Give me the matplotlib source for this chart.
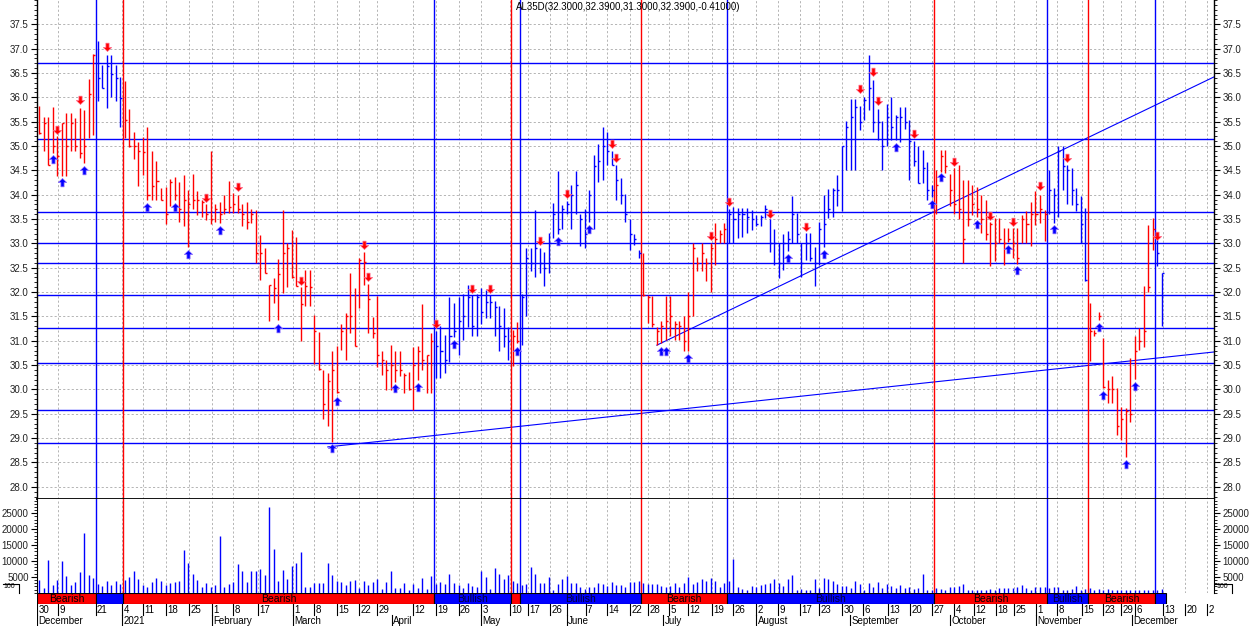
import matplotlib
matplotlib.use('Agg')
import matplotlib.pyplot as plt
import numpy as np
from matplotlib.ticker import MultipleLocator, FixedLocator
from matplotlib.lines import Line2D
from matplotlib.path import Path

plt.rcParams['font.family'] = ['Liberation Sans', 'DejaVu Sans']

W, H = 1250, 626

# daily bars, index 0 = 30 Nov 2020
highs = [35.82, 35.59, 35.59, 35.80, 35.20, 35.47, 35.68, 35.68, 35.58, 35.78,
         35.74, 36.38, 36.89, 37.16, 36.67, 36.86, 36.86, 36.67, 36.41, 36.34,
         35.77, 35.29, 35.08, 35.18, 35.40, 34.89, 34.70, 34.14, 34.15, 34.33,
         34.37, 34.27, 34.40, 34.10, 34.43, 34.07, 33.90, 33.80, 34.89, 33.80,
         33.86, 34.00, 34.29, 34.03, 34.00, 33.80, 33.86, 33.70, 33.69, 33.18,
         32.90, 32.15, 32.29, 32.68, 33.69, 33.00, 33.28, 33.14, 32.10, 32.46,
         32.46, 31.53, 31.19, 30.40, 30.33, 30.80, 30.90, 31.35, 31.57, 32.40,
         32.08, 32.70, 32.83, 32.17, 31.49, 31.91, 30.78, 30.61, 30.92, 30.80,
         30.80, 30.33, 30.35, 30.88, 30.90, 31.76, 30.71, 31.15, 31.20, 31.30,
         31.12, 31.90, 31.77, 31.90, 31.97, 32.15, 31.94, 31.97, 32.08, 32.05,
         31.95, 31.81, 31.72, 31.67, 31.28, 31.23, 31.38, 31.97, 32.90, 32.90,
         33.69, 32.90, 32.82, 33.21, 33.82, 34.49, 33.79, 33.88, 34.21, 34.49,
         33.60, 33.71, 34.10, 34.81, 35.05, 35.40, 35.28, 34.90, 34.62, 34.34,
         34.02, 33.50, 33.20, 32.87, 32.80, 31.94, 31.91, 31.29, 31.40, 31.91,
         31.91, 31.40, 31.40, 31.50, 32.01, 33.00, 32.73, 33.00, 32.70, 33.00,
         33.42, 33.28, 33.42, 33.70, 33.75, 33.73, 33.73, 33.73, 33.68, 33.59,
         33.59, 33.79, 33.50, 33.30, 33.00, 33.20, 33.25, 33.97, 33.62, 33.00,
         33.21, 33.21, 32.93, 33.45, 34.00, 34.12, 34.14, 34.41, 35.01, 35.51,
         35.97, 35.97, 35.82, 36.00, 36.86, 36.36, 35.76, 35.51, 35.87, 36.00,
         35.64, 35.80, 35.80, 35.53, 35.10, 35.01, 34.92, 34.67, 34.21, 34.50,
         34.92, 34.92, 34.43, 34.55, 34.62, 34.30, 34.30, 34.20, 34.16, 34.00,
         33.90, 33.45, 33.52, 33.52, 33.32, 33.32, 33.32, 33.32, 33.59, 33.66,
         33.86, 34.07, 34.00, 33.69, 34.51, 34.14, 35.01, 35.01, 34.62, 34.55,
         34.14, 33.97, 33.73, 31.77, 31.22, 31.60, 31.05, 30.20, 30.27, 30.03,
         29.65, 29.62, 30.64, 31.09, 31.26, 32.12, 33.38, 33.52, 33.20, 32.39]

lows = [35.25, 34.89, 34.62, 34.86, 34.39, 34.38, 34.39, 34.89, 34.89, 34.75,
        34.65, 35.16, 35.23, 35.92, 36.19, 35.78, 36.00, 35.93, 35.40, 35.16,
        34.99, 34.73, 34.17, 34.41, 33.90, 33.90, 33.90, 33.90, 33.40, 33.77,
        33.90, 33.45, 33.36, 32.93, 33.70, 33.59, 33.55, 33.48, 33.40, 33.45,
        33.42, 33.60, 33.62, 33.62, 33.62, 33.35, 33.30, 33.42, 32.60, 32.25,
        32.39, 31.40, 31.77, 31.42, 31.98, 32.10, 32.29, 32.12, 30.99, 31.72,
        31.72, 30.52, 30.40, 29.40, 29.24, 28.93, 29.92, 30.81, 30.61, 31.17,
        30.90, 31.67, 32.15, 31.17, 31.05, 30.47, 30.30, 29.99, 29.99, 30.16,
        30.27, 29.92, 29.99, 29.57, 30.20, 30.40, 29.92, 29.92, 30.23, 30.23,
        30.33, 30.56, 31.08, 30.70, 31.02, 31.29, 31.10, 31.10, 31.35, 31.47,
        31.47, 31.10, 30.80, 30.88, 30.61, 30.49, 30.95, 30.92, 31.50, 32.43,
        32.32, 32.40, 32.13, 32.39, 33.11, 33.20, 33.30, 33.60, 33.30, 33.60,
        32.94, 32.90, 33.45, 33.30, 34.27, 34.30, 34.62, 34.62, 33.90, 33.80,
        33.45, 32.87, 32.97, 32.70, 31.91, 31.36, 31.29, 30.92, 30.95, 31.02,
        31.09, 31.02, 31.02, 30.78, 30.80, 31.50, 32.43, 32.43, 32.22, 32.00,
        32.56, 33.00, 33.00, 33.00, 33.00, 33.11, 33.14, 33.21, 33.28, 33.35,
        33.35, 33.52, 32.83, 32.56, 32.29, 32.46, 32.85, 33.00, 33.00, 32.32,
        32.65, 32.63, 32.12, 32.56, 32.93, 33.52, 33.55, 33.76, 33.66, 34.51,
        34.51, 34.51, 35.32, 35.53, 35.75, 35.28, 35.13, 34.51, 35.01, 35.13,
        35.13, 35.08, 35.34, 34.30, 34.60, 34.25, 34.25, 33.90, 33.95, 33.60,
        34.47, 34.45, 33.76, 33.60, 33.50, 32.60, 33.35, 33.59, 33.55, 33.21,
        33.07, 32.53, 32.63, 33.00, 32.56, 33.02, 32.70, 32.58, 33.00, 33.00,
        32.94, 33.38, 33.42, 33.04, 33.60, 33.42, 33.55, 34.10, 33.80, 33.79,
        33.66, 33.00, 32.22, 30.58, 31.10, 31.43, 30.02, 29.72, 29.72, 29.07,
        28.97, 28.62, 29.34, 30.22, 30.82, 30.88, 32.01, 32.87, 32.53, 31.30]

closes = [35.27, 35.47, 34.62, 35.00, 34.79, 35.47, 35.00, 35.47, 35.00, 34.86,
          35.00, 36.07, 36.87, 36.40, 36.19, 36.64, 36.48, 36.40, 35.99, 35.54,
          35.00, 35.00, 34.90, 34.88, 34.00, 34.17, 34.29, 33.90, 33.60, 34.27,
          34.00, 33.70, 33.90, 33.80, 33.90, 33.90, 33.85, 33.60, 33.50, 33.70,
          33.60, 33.70, 33.75, 33.80, 33.70, 33.60, 33.45, 33.60, 32.80, 32.80,
          32.39, 32.15, 32.09, 32.38, 32.80, 32.90, 32.30, 32.12, 31.76, 32.12,
          32.10, 31.21, 30.42, 29.71, 30.17, 30.40, 29.95, 31.20, 31.50, 31.50,
          30.90, 32.65, 32.62, 31.85, 31.15, 30.70, 30.60, 30.40, 30.50, 30.40,
          30.40, 30.30, 30.00, 30.50, 30.78, 30.60, 30.70, 31.00, 30.90, 30.80,
          30.60, 31.10, 31.20, 31.40, 31.50, 31.90, 31.30, 31.90, 31.60, 31.80,
          31.80, 31.70, 31.30, 31.10, 31.00, 31.10, 31.00, 31.90, 32.70, 32.60,
          32.90, 32.60, 32.50, 33.00, 33.60, 33.30, 33.70, 33.80, 34.00, 34.20,
          33.50, 33.20, 34.00, 34.60, 34.70, 35.00, 34.90, 34.62, 34.30, 34.00,
          33.60, 33.20, 33.10, 32.80, 31.95, 31.90, 31.35, 31.20, 31.30, 31.40,
          31.50, 31.35, 31.30, 31.00, 31.50, 32.90, 32.60, 32.80, 32.60, 32.90,
          33.10, 33.20, 33.30, 33.60, 33.50, 33.60, 33.60, 33.55, 33.50, 33.40,
          33.55, 33.70, 33.00, 33.00, 32.60, 33.00, 33.10, 33.60, 33.20, 32.60,
          33.00, 32.70, 32.60, 33.30, 33.40, 33.70, 34.10, 34.10, 35.00, 35.40,
          35.60, 35.80, 35.50, 35.95, 36.20, 35.50, 35.50, 35.00, 35.60, 35.40,
          35.60, 35.60, 35.50, 35.10, 34.70, 34.25, 34.55, 34.10, 34.10, 34.20,
          34.80, 34.60, 34.10, 33.80, 33.70, 33.10, 33.50, 33.80, 33.70, 33.50,
          33.20, 33.40, 33.00, 33.10, 33.00, 33.10, 33.00, 32.70, 33.50, 33.40,
          33.60, 33.60, 33.70, 33.60, 34.10, 34.00, 34.90, 34.60, 34.50, 34.10,
          33.80, 33.40, 32.25, 31.20, 31.15, 31.50, 30.05, 30.00, 30.00, 29.25,
          29.40, 29.55, 29.50, 30.80, 31.00, 31.20, 32.10, 33.30, 32.80, 32.39]

volume = [3940, 1500, 10200, 2300, 3900, 9900, 5200, 2300, 3300, 6400,
          18700, 5500, 4600, 2600, 2000, 3600, 2400, 3600, 2600, 3900,
          4900, 6800, 4200, 2300, 1800, 3300, 4500, 3600, 2300, 3000,
          3300, 3600, 13300, 9200, 6000, 3900, 1900, 3000, 1900, 2300,
          17700, 1800, 2600, 3300, 8900, 6800, 3300, 6800, 6800, 7600,
          5600, 27100, 13800, 3600, 7300, 4200, 8300, 9200, 12700, 1800,
          1800, 3100, 3000, 3100, 9200, 5600, 3600, 3300, 2300, 3600,
          3900, 1500, 3600, 2300, 3300, 4200, 1200, 3300, 6800, 1500,
          1500, 3100, 900, 2600, 1500, 4600, 1300, 5400, 2600, 3400,
          2600, 6000, 3100, 2400, 1400, 3000, 2100, 1900, 6800, 5000,
          1300, 7800, 6000, 4200, 5500, 3800, 3100, 2400, 2600, 8100,
          6000, 3100, 3100, 4900, 1000, 2600, 4400, 5400, 3100, 3000,
          1900, 1200, 1800, 1900, 3100, 2800, 2100, 3400, 2300, 2300,
          1900, 3400, 3400, 3600, 3000, 2600, 2600, 2600, 2100, 1800,
          2100, 3000, 1800, 3100, 5000, 2600, 3300, 4200, 3600, 4500,
          3800, 1800, 3000, 3600, 10600, 1900, 1300, 1000, 2100, 1900,
          2400, 2800, 3100, 4200, 3100, 2100, 4400, 5600, 900, 1200,
          1000, 800, 4400, 1400, 4700, 4200, 3600, 2600, 2100, 2100,
          1400, 3600, 2600, 1000, 3100, 1900, 3400, 1500, 2600, 2100,
          1500, 2400, 1400, 1800, 1200, 1400, 6000, 1000, 1000, 1400,
          1200, 1000, 1900, 1800, 2100, 2800, 1000, 800, 1000, 800,
          1000, 1200, 1000, 1500, 1500, 1500, 1500, 1900, 2300, 1500,
          700, 1800, 1900, 1800, 1500, 1900, 1900, 1000, 1000, 1200,
          2100, 1000, 1200, 1500, 800, 1200, 800, 1200, 700, 700,
          1000, 1000, 700, 700, 1000, 1000, 800, 700, 1000, 1200]

# trend regime: first bar of each regime
regime_starts = [0, 13, 19, 88, 105, 107, 134, 153, 199, 224, 233, 248]
regime_names = ['Bearish', 'Bullish', 'Bearish', 'Bullish', 'Bearish', 'Bullish',
                'Bearish', 'Bullish', 'Bearish', 'Bullish', 'Bearish', 'Bullish']
regime_show = [True, False, True, True, False, True, True, True, True, True, True, False]
regime_end = 249.9

levels = [36.70, 35.14, 33.64, 33.00, 32.59, 31.95, 31.26, 30.54, 29.57, 28.91]
trend_x = [(64.0, 260.6), (137.0, 260.6)]
trend_y = [(28.82, 30.77), (30.91, 36.42)]

up_idx = [3, 5, 10, 24, 30, 33, 40, 53, 65, 66, 79, 84, 92, 106, 115, 122, 138, 139,
          144, 166, 174, 190, 198, 200, 208, 215, 217, 225, 235, 236, 241, 243]
up_tip = [34.82, 34.34, 34.60, 33.84, 33.84, 32.87, 33.35, 31.35, 28.88, 29.85, 30.11,
          30.13, 31.02, 30.88, 33.14, 33.38, 30.88, 30.88, 30.73, 32.79, 32.87, 35.06,
          33.90, 34.44, 33.49, 32.97, 32.53, 33.38, 31.36, 29.96, 28.55, 30.16]
down_idx = [4, 9, 15, 37, 44, 58, 72, 73, 88, 96, 100, 111, 117, 127, 128, 149, 153,
            162, 170, 182, 185, 186, 194, 203, 211, 216, 222, 228, 248]
down_tip = [35.25, 35.86, 36.95, 33.86, 34.07, 32.15, 32.88, 32.22, 31.26, 31.98, 31.98,
            32.97, 33.93, 34.96, 34.68, 33.07, 33.77, 33.52, 33.25, 36.08, 36.43, 35.85,
            35.17, 34.58, 33.49, 33.36, 34.10, 34.68, 33.06]

day_pos = [-0.45, 4.08, 12.5, 18.35, 23.07, 28.04, 33.27, 38.24, 43.03, 48.45, 56.21,
           61.0, 65.97, 70.99, 74.98, 82.96, 88.0, 93.03, 98.05, 104.48, 108.34, 113.29,
           117.0, 121.2, 126.0, 131.0, 135.1, 139.75, 143.97, 149.16, 153.95, 158.99,
           163.93, 168.74, 172.96, 178.13, 182.79, 188.2, 193.15, 198.09, 202.97,
           207.34, 212.16, 216.28, 221.03, 225.83, 231.23, 236.03, 239.95, 243.06,
           249.2, 254.15, 259.1]
day_lab = ['30', '9', '21', '4', '11', '18', '25', '1', '8', '17', '1', '8', '15', '22',
           '29', '12', '19', '26', '3', '10', '17', '26', '', '7', '14', '22', '28', '5',
           '12', '19', '26', '2', '9', '17', '23', '30', '6', '13', '20', '27', '4', '12',
           '18', '25', '1', '8', '15', '23', '29', '6', '13', '20', '27']
month_pos = [-0.45, 18.35, 38.24, 56.21, 78.17, 98.05, 117.0, 138.4, 159.1, 179.8,
             202.0, 221.2, 242.3]
month_lab = ['December', '2021', 'February', 'March', 'April', 'May', 'June', 'July',
             'August', 'September', 'October', 'November', 'December']

price_ticks = [28.0, 28.5, 29.0, 29.5, 30.0, 30.5, 31.0, 31.5, 32.0, 32.5,
               33.0, 33.5, 34.0, 34.5, 35.0, 35.5, 36.0, 36.5, 37.0, 37.5]
vol_ticks = [5000, 10000, 15000, 20000, 25000]

RED = '#ff0000'
BLUE = '#0000ff'
regime_color = {'Bearish': RED, 'Bullish': BLUE}
XL = (-0.51, 260.6)

# arrow glyphs with the tip at the origin
arrow_verts = [(0, 0), (0.5, -0.48), (0.19, -0.48), (0.19, -1.0), (-0.19, -1.0),
               (-0.19, -0.48), (-0.5, -0.48), (0, 0)]
arrow_codes = [Path.MOVETO] + [Path.LINETO] * 6 + [Path.CLOSEPOLY]
up_marker = Path(arrow_verts, arrow_codes)
down_marker = Path([(vx, -vy) for vx, vy in arrow_verts], arrow_codes)

fig = plt.figure(figsize=(W / 100, H / 100), dpi=100)
ax = fig.add_axes([37 / W, 127 / H, 1177 / W, 499 / H])
axv = fig.add_axes([37 / W, 33.3 / H, 1177 / W, 93.7 / H])
axs = fig.add_axes([37 / W, 22 / H, 1177 / W, 11.3 / H])
axd = fig.add_axes([37 / W, 0, 1177 / W, 22 / H])

n = len(highs)
xs = np.arange(n)
bar_col = []
for i in range(n):
    k = max(j for j, s in enumerate(regime_starts) if s <= i)
    bar_col.append(regime_color[regime_names[k]])

gridstyle = dict(color='#b4b4b4', lw=0.7, ls=(0, (2.2, 2.2)))

# price panel
ax.set_xlim(*XL)
ax.set_ylim(27.75, 38.0)
ax.yaxis.set_major_locator(FixedLocator(price_ticks))
ax.yaxis.set_minor_locator(MultipleLocator(0.1))
ax.yaxis.set_major_formatter(matplotlib.ticker.FormatStrFormatter('%.1f'))
ax.xaxis.set_major_locator(FixedLocator(day_pos[1:]))
ax.tick_params(axis='x', length=0, labelbottom=False)
ax.tick_params(axis='y', which='both', left=True, right=True, labelleft=True,
               labelright=True, direction='out', labelsize=7, labelcolor='#222222', pad=2)
ax.tick_params(axis='y', which='major', length=4)
ax.tick_params(axis='y', which='minor', length=2)
ax.grid(True, which='major', **gridstyle)
ax.set_axisbelow(True)
ax.spines['top'].set_visible(False)
for sp in ['left', 'right']:
    ax.spines[sp].set_linewidth(1.0)
ax.spines['bottom'].set_linewidth(1.3)
ax.spines['bottom'].set_color('black')
ax.spines['bottom'].set_zorder(6)

for lv in levels:
    ax.axhline(lv, color=BLUE, lw=1.0, zorder=2)
for (x0, x1), (y0, y1) in zip(trend_x, trend_y):
    ax.plot([x0, x1], [y0, y1], color=BLUE, lw=0.8, zorder=2)
for s, name in zip(regime_starts[1:], regime_names[1:]):
    ax.axvline(s - 0.42, color=regime_color[name], lw=1.0, zorder=2)
    axv.axvline(s - 0.42, color=regime_color[name], lw=1.0, zorder=2)

ax.vlines(xs, lows, highs, colors=bar_col, lw=1.0, zorder=3)
ax.hlines(closes, xs, xs + 0.45, colors=bar_col, lw=1.0, zorder=3)

ax.plot(up_idx, up_tip, ls='none', marker=up_marker, ms=12, color=BLUE,
        mec='#8a6aff', mew=0.5, zorder=4)
ax.plot(down_idx, down_tip, ls='none', marker=down_marker, ms=12, color=RED,
        mec='#ff6a8a', mew=0.5, zorder=4)

fig.text(516 / W, 1 - 7 / H, 'AL35D(32.3000,32.3900,31.3000,32.3900,-0.41000)',
         fontsize=7, ha='left', va='center', color='black')

# volume panel
axv.set_xlim(*XL)
axv.set_ylim(0, 29500)
axv.vlines(xs, 0, volume, colors=BLUE, lw=1.0, zorder=3)
axv.yaxis.set_major_locator(FixedLocator(vol_ticks))
axv.yaxis.set_minor_locator(MultipleLocator(1000))
axv.xaxis.set_major_locator(FixedLocator(day_pos[1:]))
axv.tick_params(axis='x', length=0, labelbottom=False)
axv.tick_params(axis='y', which='both', left=True, right=True, labelleft=True,
                labelright=True, direction='out', labelsize=7, labelcolor='#222222', pad=2)
axv.tick_params(axis='y', which='major', length=4)
axv.tick_params(axis='y', which='minor', length=2)
axv.grid(True, axis='x', **gridstyle)
axv.set_axisbelow(True)
axv.spines['top'].set_visible(False)
axv.spines['bottom'].set_visible(False)

# regime strip
axs.set_xlim(*XL)
axs.set_ylim(0, 1)
axs.axis('off')
edges = [XL[0]] + [s - 0.42 for s in regime_starts[1:]] + [regime_end]
for k, name in enumerate(regime_names):
    l, r = edges[k], edges[k + 1]
    axs.bar(l, 1, width=r - l, bottom=0, align='edge', color=regime_color[name],
            edgecolor='black', lw=0.8)
    if regime_show[k]:
        axs.text((l + r) / 2, 0.45, name, ha='center', va='center', fontsize=7.5,
                 color='black' if name == 'Bearish' else '#000033')

# date rows
axd.set_xlim(*XL)
axd.set_ylim(0, 1)
axd.axis('off')
for p, lab in zip(day_pos, day_lab):
    axd.plot([p, p], [0.5, 1.0], color='black', lw=0.8, clip_on=True)
    axd.text(p + 0.3, 0.74, lab, fontsize=7, ha='left', va='center', clip_on=True)
for p, lab in zip(month_pos, month_lab):
    axd.plot([p, p], [0.0, 0.5], color='black', lw=0.8, clip_on=True)
    axd.text(p + 0.3, 0.22, lab, fontsize=7, ha='left', va='center', clip_on=True)

# scale markers at bottom corners
fig.text(3 / W, 1 - 587 / H, '100', fontsize=5, ha='left', va='center')
fig.text(1216 / W, 1 - 587 / H, '100', fontsize=5, ha='left', va='center')
fig.add_artist(Line2D([3 / W, 19 / W, 19 / W], [1 - 584 / H, 1 - 584 / H, 1 - 593 / H],
                      color='black', lw=0.8))
fig.add_artist(Line2D([1215 / W, 1232 / W, 1232 / W], [1 - 584 / H, 1 - 584 / H, 1 - 593 / H],
                      color='black', lw=0.8))

fig.savefig('out.png', dpi=100)
